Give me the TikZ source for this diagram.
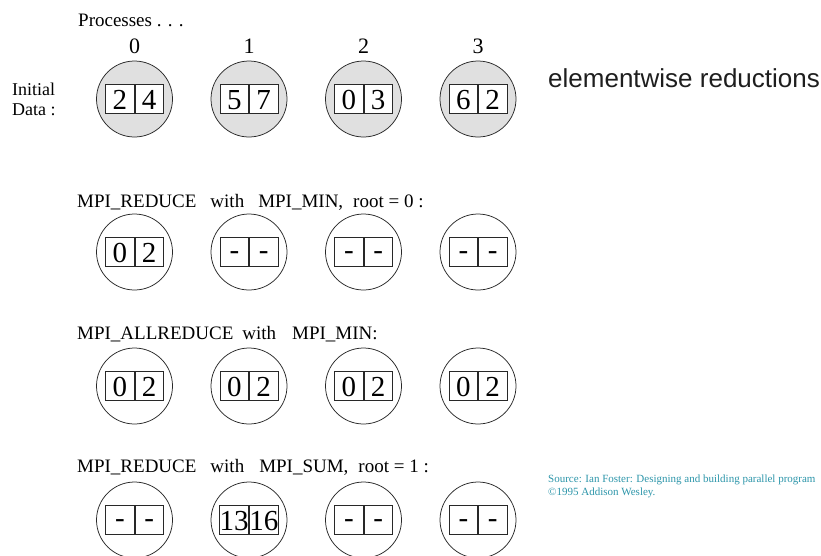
\documentclass[tikz,border=0pt]{standalone}
\usepackage{fontspec}
\setmainfont{Liberation Serif}
\newfontfamily\sansf{Liberation Sans}
\definecolor{srcteal}{RGB}{45,150,170}
\definecolor{procfill}{RGB}{224,224,224}
\definecolor{inkgray}{RGB}{40,40,40}
\definecolor{titlegray}{RGB}{30,30,30}
\tikzset{
  proc/.style={circle, draw=inkgray, line width=0.75pt, minimum size=76pt, inner sep=0pt},
  cell/.style={rectangle, draw=inkgray, line width=0.7pt, minimum width=28.5pt,
    minimum height=29pt, inner sep=0pt, fill=white, text height=20pt, text depth=0pt,
    font=\fontsize{29}{29}\selectfont},
  lbl/.style={inner sep=0pt, font=\fontsize{19}{19}\selectfont, anchor=base west},
  pnum/.style={inner sep=0pt, font=\fontsize{22}{22}\selectfont},
}
\newcommand\dsh{\raisebox{2.6pt}{-}}
\newcommand\mproc[6]{%
  \node[proc, fill=#4] (#1) at (#2,#3) {};
  \node[cell, anchor=east] (#1-a) at (#2,#3) {#5};
  \node[cell, anchor=west] (#1-b) at (#2,#3) {#6};
}
\begin{document}
\begin{tikzpicture}[x=1pt,y=-1pt]
\clip (0,0) rectangle (821,555);
\fill[white] (0,0) rectangle (821,555);

% headings
\node[lbl] (procs) at (78,26) {Processes . . .};
\node[pnum] (n0) at (134.5,46) {0};
\node[pnum] (n1) at (249,46) {1};
\node[pnum] (n2) at (363.5,46) {2};
\node[pnum] (n3) at (478,46) {3};
\node[inner sep=0pt, anchor=north west, align=left,
      font=\fontsize{18}{20}\selectfont] (init) at (12,82.7) {Initial\\Data :};
\node[inner sep=0pt, anchor=base west, text=titlegray,
      font=\sansf\fontsize{26}{26}\selectfont] (title) at (548,87) {elementwise reductions};

% row 0: initial data
\mproc{a0}{134.5}{99}{procfill}{2}{4}
\mproc{a1}{249}{99}{procfill}{5}{7}
\mproc{a2}{363.5}{99}{procfill}{0}{3}
\mproc{a3}{478}{99}{procfill}{6}{2}

% row 1
\node[lbl] (t1) at (77,207) {MPI\_REDUCE\hspace{14pt}with\hspace{14pt}MPI\_MIN,\hspace{10pt}root = 0 :};
\mproc{b0}{134.5}{252}{white}{0}{2}
\mproc{b1}{249}{252}{white}{\dsh}{\dsh}
\mproc{b2}{363.5}{252}{white}{\dsh}{\dsh}
\mproc{b3}{478}{252}{white}{\dsh}{\dsh}

% row 2
\node[lbl] (t2) at (77,339) {MPI\_ALLREDUCE\hspace{9pt}with\hspace{16pt}MPI\_MIN:};
\mproc{c0}{134.5}{386}{white}{0}{2}
\mproc{c1}{249}{386}{white}{0}{2}
\mproc{c2}{363.5}{386}{white}{0}{2}
\mproc{c3}{478}{386}{white}{0}{2}

% row 3
\node[lbl] (t3) at (77,472) {MPI\_REDUCE\hspace{14pt}with\hspace{15pt}MPI\_SUM,\hspace{10pt}root = 1 :};
\mproc{d0}{134.5}{520}{white}{\dsh}{\dsh}
\mproc{d1}{249}{520}{white}{13}{16}
\mproc{d2}{363.5}{520}{white}{\dsh}{\dsh}
\mproc{d3}{478}{520}{white}{\dsh}{\dsh}

% source
\node[inner sep=0pt, anchor=north west, align=left, text=srcteal,
      font=\fontsize{11}{13}\selectfont] (src) at (548,474.5)
  {Source: Ian Foster: Designing and building parallel program\\\textcopyright1995 Addison Wesley.};
\end{tikzpicture}
\end{document}
